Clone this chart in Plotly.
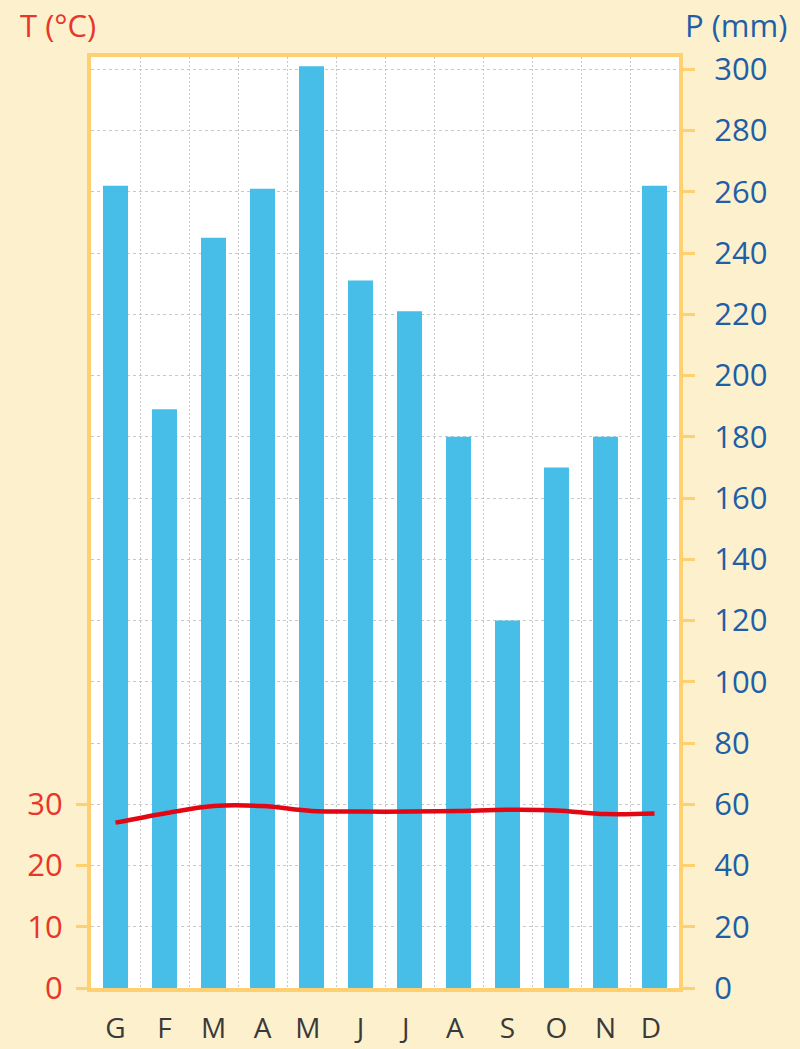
import plotly.graph_objects as go

months = ["G", "F", "M", "A", "M ", "J", "J ", "A ", "S", "O", "N", "D "]
precip_mm = [262, 189, 245, 261, 301, 231, 221, 180, 120, 170, 180, 262]
temp_c = [27.0, 28.5, 29.7, 29.7, 28.9, 28.8, 28.8, 28.9, 29.1, 29.0, 28.4, 28.5]
temp_ticks = [0, 10, 20, 30]

BG = "#fdf0cd"
FRAME = "#ffd071"
BLUE_BAR = "#46bee8"
RED = "#e30613"
RED_TXT = "#e8362a"
BLUE_TXT = "#1e5fa6"
FONT = "Open Sans"

fig = go.Figure()
fig.add_trace(go.Bar(x=months, y=precip_mm, marker=dict(color=BLUE_BAR, line=dict(width=0)),
                     yaxis="y", showlegend=False))
fig.add_trace(go.Scatter(x=months, y=temp_c, mode="lines", line=dict(color=RED, width=4.5, shape="spline"),
                         yaxis="y2", showlegend=False))

fig.update_layout(
    width=800, height=1049,
    paper_bgcolor=BG, plot_bgcolor="white",
    margin=dict(l=91, r=121, t=57, b=61, autoexpand=False),
    bargap=0.49,
    font=dict(family=FONT, size=31),
    xaxis=dict(type="category", tickson="boundaries", showgrid=True, gridcolor="#c8c8c8",
               griddash="2px,2px", gridwidth=1, ticks="", showline=True, linecolor=FRAME,
               linewidth=4, mirror=True, tickfont=dict(color="#3a3a3a", size=28),
               ticklabelstandoff=12, zeroline=False, automargin=False),
    yaxis=dict(side="right", range=[0, 304], tickmode="linear", tick0=0, dtick=20,
               showgrid=True, gridcolor="#c8c8c8", griddash="3px,3px", gridwidth=1,
               ticks="outside", ticklen=12, tickcolor=FRAME, tickwidth=3,
               showline=True, linecolor=FRAME, linewidth=4, mirror=True,
               tickfont=dict(color=BLUE_TXT, size=31), ticklabelstandoff=13, zeroline=False,
               automargin=False),
    yaxis2=dict(overlaying="y", side="left", range=[0, 152], tickvals=temp_ticks,
                showgrid=False, ticks="outside", ticklen=14, tickcolor=FRAME, tickwidth=3,
                tickfont=dict(color=RED_TXT, size=31), ticklabelstandoff=7, zeroline=False,
                showline=False, automargin=False),
    annotations=[
        dict(text="T (°C)", xref="paper", yref="paper", x=-0.124, y=1.034, xanchor="left",
             yanchor="middle", showarrow=False, font=dict(color=RED_TXT, size=31)),
        dict(text="P (mm)", xref="paper", yref="paper", x=1.187, y=1.034, xanchor="right",
             yanchor="middle", showarrow=False, font=dict(color=BLUE_TXT, size=31)),
    ],
)

fig.write_html("out.html", config={"displayModeBar": False},
               post_script="document.body.style.margin='0';")
